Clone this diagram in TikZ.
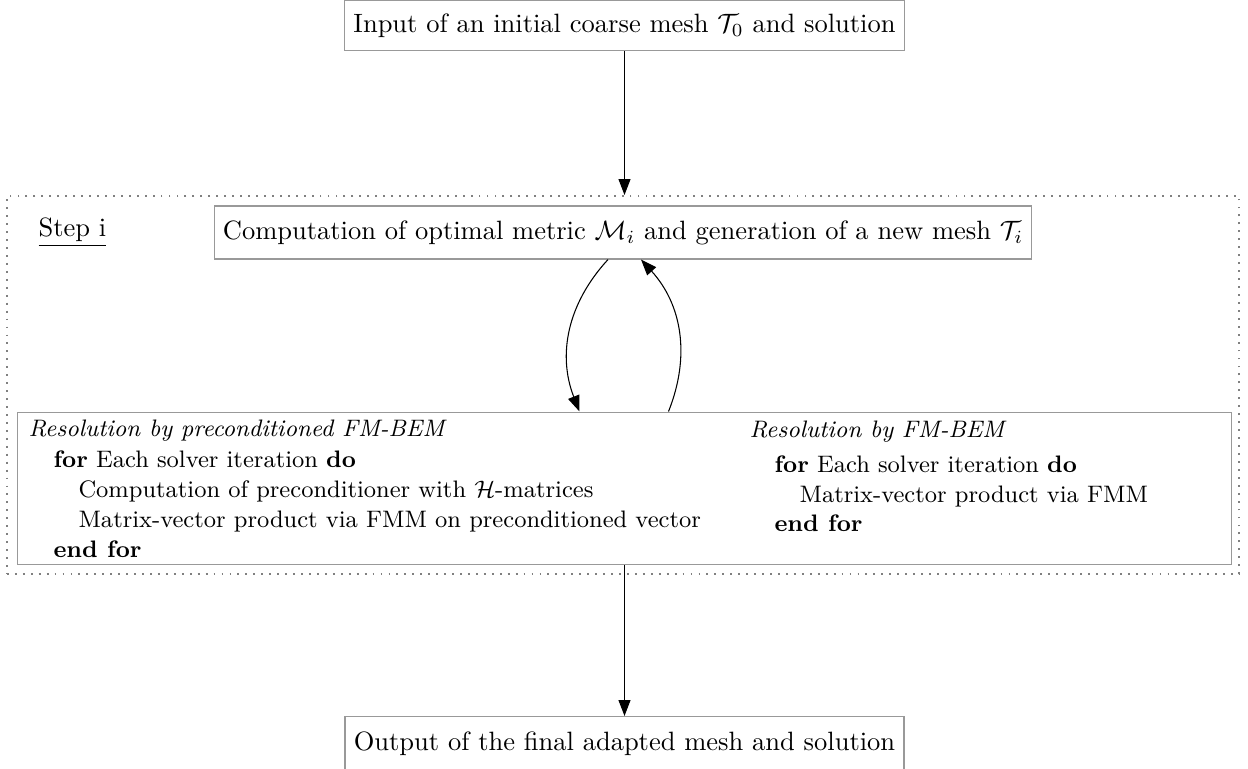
\documentclass[tikz,border=0pt]{standalone}
\usetikzlibrary{arrows.meta,calc}
\begin{document}
\begin{tikzpicture}[x=0.3774pt,y=-0.3774pt,
  box/.style={draw=black!40, inner sep=3.33pt, align=center},
  algline/.style={anchor=base west, inner sep=0pt, font=\small},
  arr/.style={-{Triangle[length=6pt,width=4.5pt]}, black},
  frm/.style={draw=black!50, line width=0.7pt, dash pattern=on 0.7pt off 2.3pt, inner sep=0pt},
  ]
\useasboundingbox (0,0) rectangle (1248,769);
\node[box, minimum height=19.2pt] (inp) at (624.5,25.5) {Input of an initial coarse mesh $\mathcal{T}_0$ and solution};
\node[frm, minimum width=465pt, minimum height=142.7pt] (frame) at (623,385) {};
\node[anchor=base west, inner sep=0pt] (step) at (38,237) {\underline{Step i}};
\node[box, minimum height=20pt] (mid) at (623,232.5) {Computation of optimal metric $\mathcal{M}_i$ and generation of a new mesh $\mathcal{T}_i$};
\node[draw=black!40, minimum width=458.2pt, minimum height=57.7pt, inner sep=0pt] (solve) at (624.5,488.5) {};
\node[algline] (a1) at (28,437) {\itshape Resolution by preconditioned FM-BEM};
\node[algline] (a2) at (53,468) {\textbf{for} Each solver iteration \textbf{do}};
\node[algline] (a3) at (78,498) {Computation of preconditioner with $\mathcal{H}$-matrices};
\node[algline] (a4) at (78,528) {Matrix-vector product via FMM on preconditioned vector};
\node[algline] (a5) at (53,557) {\textbf{end for}};
\node[algline] (b1) at (749,438) {\itshape Resolution by FM-BEM};
\node[algline] (b2) at (774,473) {\textbf{for} Each solver iteration \textbf{do}};
\node[algline] (b3) at (799,503) {Matrix-vector product via FMM};
\node[algline] (b4) at (774,532) {\textbf{end for}};
\node[box, minimum height=20.5pt, anchor=north] (out) at (624.5,716) {Output of the final adapted mesh and solution};
\draw[arr] (inp.south) -- (inp.south |- frame.north);
\draw[arr] ($(mid.south)+(-15,0)$) to[bend right=32] ($(solve.north)+(-45,0)$);
\draw[arr] ($(solve.north)+(44,0)$) to[bend right=32] ($(mid.south)+(18,0)$);
\draw[arr] (solve.south) -- (solve.south |- out.north);
\end{tikzpicture}
\end{document}
